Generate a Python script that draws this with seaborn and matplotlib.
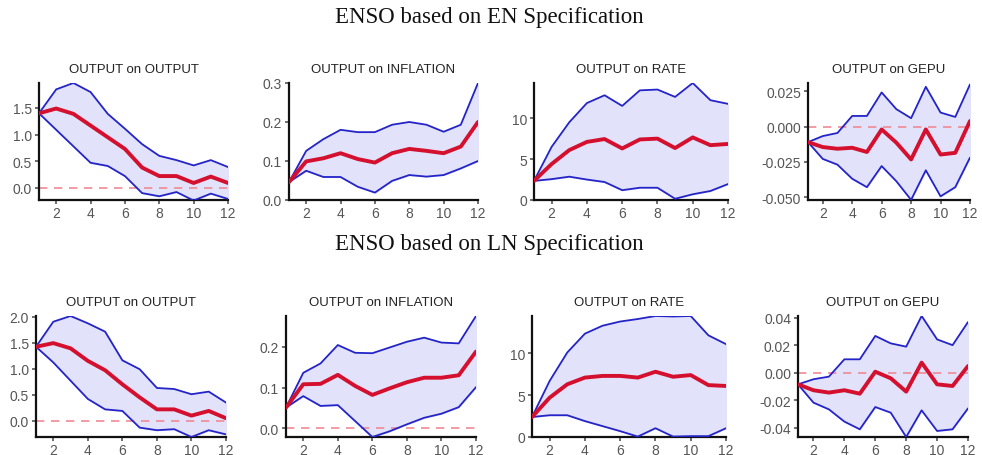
import numpy as np
import pandas as pd
import matplotlib
matplotlib.use("Agg")
import matplotlib.pyplot as plt
import seaborn as sns

# === Data ===
horizon = list(range(1, 13))
panel_titles = ["OUTPUT on OUTPUT", "OUTPUT on INFLATION", "OUTPUT on RATE", "OUTPUT on GEPU"]
section_titles = ["ENSO based on EN Specification", "ENSO based on LN Specification"]

# EN specification
en_output_med = [1.40, 1.49, 1.39, 1.17, 0.95, 0.73, 0.38, 0.22, 0.22, 0.09, 0.21, 0.09]
en_output_up = [1.40, 1.85, 1.97, 1.80, 1.39, 1.11, 0.82, 0.60, 0.52, 0.42, 0.52, 0.39]
en_output_lo = [1.40, 1.09, 0.78, 0.47, 0.41, 0.22, -0.10, -0.16, -0.08, -0.24, -0.11, -0.21]

en_infl_med = [0.046, 0.099, 0.107, 0.120, 0.105, 0.096, 0.120, 0.131, 0.126, 0.120, 0.137, 0.200]
en_infl_up = [0.046, 0.126, 0.156, 0.180, 0.174, 0.174, 0.193, 0.200, 0.193, 0.175, 0.193, 0.300]
en_infl_lo = [0.046, 0.075, 0.059, 0.059, 0.034, 0.019, 0.049, 0.064, 0.060, 0.064, 0.081, 0.100]

en_rate_med = [2.34, 4.4, 6.1, 7.1, 7.45, 6.3, 7.4, 7.5, 6.35, 7.65, 6.7, 6.85]
en_rate_up = [2.34, 6.5, 9.5, 11.85, 12.8, 11.5, 13.4, 13.5, 12.6, 14.3, 12.2, 11.75]
en_rate_lo = [2.34, 2.55, 2.85, 2.5, 2.2, 1.2, 1.5, 1.5, 0.15, 0.7, 1.1, 1.95]

en_gepu_med = [-0.011, -0.0145, -0.0157, -0.015, -0.018, -0.002, -0.0114, -0.0233, -0.002, -0.0198, -0.0186, 0.004]
en_gepu_up = [-0.011, -0.0067, -0.0045, 0.0076, 0.0076, 0.0243, 0.0124, 0.006, 0.0283, 0.010, 0.0069, 0.030]
en_gepu_lo = [-0.011, -0.0229, -0.027, -0.037, -0.043, -0.028, -0.0388, -0.052, -0.031, -0.0495, -0.043, -0.022]

# LN specification
ln_output_med = [1.42, 1.49, 1.39, 1.15, 0.97, 0.70, 0.45, 0.22, 0.22, 0.10, 0.19, 0.05]
ln_output_up = [1.42, 1.90, 2.01, 1.87, 1.71, 1.16, 0.99, 0.63, 0.61, 0.51, 0.56, 0.35]
ln_output_lo = [1.42, 1.12, 0.77, 0.42, 0.22, 0.19, -0.13, -0.18, -0.16, -0.31, -0.18, -0.26]

ln_infl_med = [0.051, 0.108, 0.109, 0.131, 0.104, 0.082, 0.098, 0.113, 0.124, 0.124, 0.130, 0.188]
ln_infl_up = [0.051, 0.136, 0.159, 0.204, 0.185, 0.184, 0.198, 0.212, 0.222, 0.210, 0.208, 0.275]
ln_infl_lo = [0.051, 0.079, 0.055, 0.057, 0.018, -0.021, -0.007, 0.010, 0.026, 0.036, 0.052, 0.101]

ln_rate_med = [2.39, 4.7, 6.3, 7.1, 7.3, 7.3, 7.1, 7.8, 7.2, 7.4, 6.2, 6.1]
ln_rate_up = [2.39, 6.7, 10.1, 12.35, 13.3, 13.8, 14.1, 14.46, 14.4, 14.46, 12.15, 11.1]
ln_rate_lo = [2.39, 2.6, 2.6, 1.9, 1.3, 0.7, 0.05, 1.05, 0.05, 0.1, 0.1, 1.05]

ln_gepu_med = [-0.0085, -0.0128, -0.0145, -0.0128, -0.0153, 0.0007, -0.0041, -0.0138, 0.0073, -0.0085, -0.0097, 0.0048]
ln_gepu_up = [-0.0085, -0.0048, -0.0029, 0.0097, 0.0097, 0.0267, 0.0213, 0.0189, 0.0412, 0.0242, 0.020, 0.0368]
ln_gepu_lo = [-0.0085, -0.0218, -0.0267, -0.0356, -0.0412, -0.025, -0.0291, -0.0468, -0.0274, -0.0424, -0.0412, -0.026]

en_yticks = [[0.0, 0.5, 1.0, 1.5], [0.0, 0.1, 0.2, 0.3], [0, 5, 10], [-0.050, -0.025, 0.000, 0.025]]
ln_yticks = [[0.0, 0.5, 1.0, 1.5, 2.0], [0.0, 0.1, 0.2], [0, 5, 10], [-0.04, -0.02, 0.00, 0.02, 0.04]]
en_fmt = ["%.1f", "%.1f", "%d", "%.3f"]
ln_fmt = ["%.1f", "%.1f", "%d", "%.2f"]
en_ylim = [(-0.23, 1.97), (0.0, 0.30), (0, 14.3), (-0.0521, 0.031)]
ln_ylim = [(-0.31, 2.01), (-0.021, 0.275), (0, 14.46), (-0.0468, 0.0412)]

en_sets = [(en_output_med, en_output_up, en_output_lo), (en_infl_med, en_infl_up, en_infl_lo),
           (en_rate_med, en_rate_up, en_rate_lo), (en_gepu_med, en_gepu_up, en_gepu_lo)]
ln_sets = [(ln_output_med, ln_output_up, ln_output_lo), (ln_infl_med, ln_infl_up, ln_infl_lo),
           (ln_rate_med, ln_rate_up, ln_rate_lo), (ln_gepu_med, ln_gepu_up, ln_gepu_lo)]

# === Style ===
sns.set_style("ticks")
plt.rcParams["font.family"] = ["Liberation Sans", "DejaVu Sans"]

W, H = 982, 456
fig = plt.figure(figsize=(W / 100, H / 100), dpi=100)

# pixel boxes (left, right, top, bottom)
en_boxes = [(39, 228, 84, 201), (289, 478, 84, 201), (534, 728, 84, 201), (808, 970, 84, 201)]
ln_boxes = [(36, 226, 317, 438), (286, 476, 317, 438), (532, 726, 317, 438), (798, 968, 317, 438)]

FILL = "#E2E2FA"
BLUE = "#2424C8"
RED = "#D4102E"


def draw_panel(box, series, title, yticks, fmt, ylim):
    l, r, t, b = box
    ax = fig.add_axes([l / W, (H - b) / H, (r - l) / W, (b - t) / H])
    med, up, lo = series
    df = pd.DataFrame({"h": horizon, "med": med, "up": up, "lo": lo})
    ax.fill_between(df["h"], df["lo"], df["up"], color=FILL, zorder=1)
    sns.lineplot(data=df, x="h", y="up", ax=ax, color=BLUE, lw=1.3, zorder=3)
    sns.lineplot(data=df, x="h", y="lo", ax=ax, color=BLUE, lw=1.3, zorder=3)
    ax.axhline(0, color="#F08A95", lw=1.2, ls=(0, (5, 4)), zorder=2)
    sns.lineplot(data=df, x="h", y="med", ax=ax, color=RED, lw=2.8, zorder=4)
    ax.set_xlim(1, 12)
    ax.set_ylim(*ylim)
    ax.set_xticks([2, 4, 6, 8, 10, 12])
    ax.set_yticks(yticks)
    ax.yaxis.set_major_formatter(matplotlib.ticker.FormatStrFormatter(fmt))
    ax.set_xlabel("")
    ax.set_ylabel("")
    ax.set_title(title, fontsize=9.5, color="#222222", pad=8)
    ax.tick_params(labelsize=10, colors="#555555", length=3, width=1.2, pad=2)
    ax.tick_params(axis="x", pad=1)
    sns.despine(ax=ax)
    for s in ["left", "bottom"]:
        ax.spines[s].set_linewidth(1.6)
        ax.spines[s].set_color("#111111")
    return ax


for i in range(4):
    draw_panel(en_boxes[i], en_sets[i], panel_titles[i], en_yticks[i], en_fmt[i], en_ylim[i])
    draw_panel(ln_boxes[i], ln_sets[i], panel_titles[i], ln_yticks[i], ln_fmt[i], ln_ylim[i])

fig.text(489 / W, 1 - 18 / H, section_titles[0], ha="center", va="center",
         fontsize=16.5, family=["Liberation Serif", "DejaVu Serif"], color="#111111")
fig.text(489 / W, 1 - 245 / H, section_titles[1], ha="center", va="center",
         fontsize=16.5, family=["Liberation Serif", "DejaVu Serif"], color="#111111")

fig.savefig("out.png", dpi=100)
